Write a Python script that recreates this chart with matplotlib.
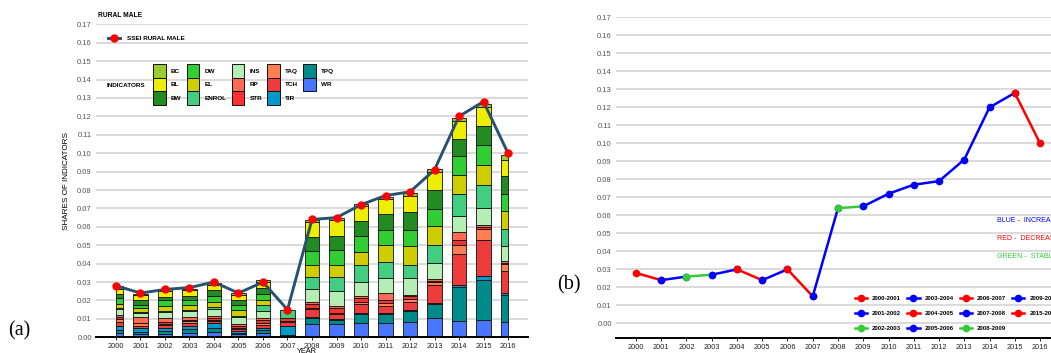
import numpy as np
import matplotlib
matplotlib.use("Agg")
import matplotlib.pyplot as plt
import matplotlib.patches as mpatches

# ── Data ───────────────────────────────────────────────────
years = np.arange(2000, 2017)
ssei  = [0.028, 0.024, 0.026, 0.027, 0.030, 0.024, 0.030, 0.015, 0.064,
         0.065, 0.072, 0.077, 0.079, 0.091, 0.120, 0.128, 0.100]

# indicator shares, stacked bottom -> top
WR    = [0.0024, 0.0016, 0.0020, 0.0026, 0.0029, 0.0016, 0.0024, 0.0000, 0.0071, 0.0071, 0.0075, 0.0080, 0.0085, 0.0103, 0.0087, 0.0096, 0.0082]
TPQ   = [0.0014, 0.0013, 0.0014, 0.0018, 0.0024, 0.0009, 0.0014, 0.0014, 0.0036, 0.0025, 0.0053, 0.0045, 0.0060, 0.0078, 0.0185, 0.0217, 0.0149]
TIR   = [0.0022, 0.0024, 0.0018, 0.0018, 0.0022, 0.0011, 0.0014, 0.0045, 0.0004, 0.0004, 0.0004, 0.0005, 0.0004, 0.0004, 0.0013, 0.0018, 0.0011]
TCH   = [0.0025, 0.0011, 0.0013, 0.0013, 0.0016, 0.0007, 0.0013, 0.0022, 0.0040, 0.0027, 0.0049, 0.0040, 0.0045, 0.0098, 0.0165, 0.0199, 0.0118]
TAQ   = [0.0014, 0.0011, 0.0009, 0.0011, 0.0005, 0.0005, 0.0013, 0.0005, 0.0009, 0.0005, 0.0013, 0.0014, 0.0014, 0.0015, 0.0049, 0.0058, 0.0036]
STR   = [0.0011, 0.0005, 0.0009, 0.0007, 0.0009, 0.0013, 0.0014, 0.0018, 0.0022, 0.0027, 0.0018, 0.0018, 0.0016, 0.0009, 0.0027, 0.0013, 0.0009]
RP    = [0.0011, 0.0029, 0.0024, 0.0018, 0.0009, 0.0011, 0.0014, 0.0000, 0.0009, 0.0013, 0.0013, 0.0040, 0.0005, 0.0009, 0.0045, 0.0011, 0.0009]
INS   = [0.0031, 0.0025, 0.0031, 0.0033, 0.0040, 0.0036, 0.0036, 0.0000, 0.0074, 0.0078, 0.0078, 0.0078, 0.0091, 0.0087, 0.0090, 0.0090, 0.0082]
ENROL = [0.0009, 0.0005, 0.0005, 0.0005, 0.0009, 0.0007, 0.0031, 0.0045, 0.0062, 0.0076, 0.0087, 0.0091, 0.0072, 0.0096, 0.0118, 0.0125, 0.0094]
EL    = [0.0022, 0.0018, 0.0025, 0.0025, 0.0027, 0.0033, 0.0027, 0.0000, 0.0065, 0.0065, 0.0076, 0.0091, 0.0105, 0.0103, 0.0105, 0.0110, 0.0096]
DW    = [0.0029, 0.0018, 0.0035, 0.0027, 0.0033, 0.0027, 0.0036, 0.0000, 0.0076, 0.0085, 0.0085, 0.0082, 0.0085, 0.0096, 0.0098, 0.0109, 0.0094]
BW    = [0.0025, 0.0027, 0.0018, 0.0024, 0.0034, 0.0027, 0.0033, 0.0000, 0.0076, 0.0076, 0.0082, 0.0085, 0.0096, 0.0100, 0.0096, 0.0103, 0.0096]
BL    = [0.0025, 0.0027, 0.0030, 0.0030, 0.0027, 0.0027, 0.0031, 0.0000, 0.0082, 0.0087, 0.0082, 0.0082, 0.0091, 0.0098, 0.0096, 0.0100, 0.0085]
BC    = [0.0018, 0.0007, 0.0009, 0.0007, 0.0009, 0.0009, 0.0009, 0.0000, 0.0009, 0.0009, 0.0009, 0.0013, 0.0016, 0.0018, 0.0016, 0.0018, 0.0027]

indicators = ["BC", "BL", "BW", "DW", "EL", "ENROL", "INS", "RP", "STR", "TAQ", "TCH", "TIR", "TPQ", "WR"]
ind_values = {"BC": BC, "BL": BL, "BW": BW, "DW": DW, "EL": EL, "ENROL": ENROL, "INS": INS,
              "RP": RP, "STR": STR, "TAQ": TAQ, "TCH": TCH, "TIR": TIR, "TPQ": TPQ, "WR": WR}
ind_colors = {"BC": "#9ACD32", "BL": "#EEEE00", "BW": "#228B22", "DW": "#32CD32",
              "EL": "#CDCD00", "ENROL": "#43CD80", "INS": "#B4EEB4", "RP": "#FF6A50",
              "STR": "#FF3030", "TAQ": "#FF7F50", "TCH": "#EE3B3B", "TIR": "#0099CC",
              "TPQ": "#008B8B", "WR": "#4876FF"}

# panel (b) trend segments: label, start index, end index, trend
seg_labels = ["2000-2001", "2001-2002", "2002-2003", "2003-2004", "2004-2005", "2005-2006",
              "2006-2007", "2007-2008", "2008-2009", "2009-2015", "2015-2016"]
seg_start  = [0, 1, 2, 3, 4, 5, 6, 7, 8, 9, 15]
seg_end    = [1, 2, 3, 4, 5, 6, 7, 8, 9, 15, 16]
seg_trend  = ["dec", "inc", "stable", "inc", "dec", "inc", "dec", "inc", "stable", "inc", "dec"]
TREND_COLOR = {"inc": "#0000FF", "dec": "#FF0000", "stable": "#33CC33"}

# ── Style ──────────────────────────────────────────────────
plt.rcParams.update({"font.family": ["Liberation Sans", "DejaVu Sans"]})
W, H = 1051, 353
GRID = "#d4d4d4"; TICK = "#555555"; LINE = "#28506F"

fig = plt.figure(figsize=(W / 100, H / 100), dpi=100)

def px(x0, y0, x1, y1):
    return [x0 / W, 1 - y1 / H, (x1 - x0) / W, (y1 - y0) / H]

# ── Panel (a) ──────────────────────────────────────────────
ax = fig.add_axes(px(96, 24.3, 528, 337.3))
bw = 0.61
lefts  = years - bw / 2
widths = np.full(len(years), bw)
lefts[0] = years[0]; widths[0] = bw / 2
widths[-1] = bw / 2

bottom = np.zeros(len(years))
for name in indicators[::-1]:
    vals = np.array(ind_values[name])
    bars = ax.bar(lefts, vals, width=widths, bottom=bottom, align="edge",
                  color=ind_colors[name], edgecolor="#111111", linewidth=0.6, zorder=3)
    for b, v in zip(bars, vals):
        if v == 0:
            b.set_linewidth(0)
    bottom += vals

line, = ax.plot(years, ssei, color=LINE, linewidth=2.1, marker="o", markersize=5,
                markerfacecolor="#FF0000", markeredgecolor="#FF0000", zorder=5)

ax.set_xlim(1999.184, 2016.816)
ax.set_ylim(0, 0.17)
ax.set_yticks(np.arange(0, 0.171, 0.01))
ax.set_yticklabels([f"{v:.2f}" for v in np.arange(0, 0.171, 0.01)])
ax.set_xticks(years)
ax.tick_params(axis="y", length=0, pad=3, labelsize=5.5, labelcolor=TICK)
ax.tick_params(axis="x", length=2, width=0.6, pad=2, labelsize=5.3, labelcolor="#222222")
ax.grid(axis="y", color=GRID, linewidth=1.2, zorder=0)
for s in ["top", "right", "left"]:
    ax.spines[s].set_visible(False)
ax.spines["bottom"].set_linewidth(1.4)
ax.spines["bottom"].set_zorder(6)
ax.set_ylabel("SHARES OF INDICATORS", fontsize=5.9, labelpad=5)

fig.text(98 / W, 1 - 15.7 / H, "RURAL MALE", fontsize=4.8, fontweight="bold", va="center")
# x title sits at the very bottom edge, as in the source
fig.text(307 / W, 1 - 348 / H, "YEAR", fontsize=5.3, ha="center", va="top")

leg1 = ax.legend([line], ["SSEI RURAL MALE"], loc="upper left",
                 bbox_to_anchor=(108 / W, 1 - 36 / H), bbox_transform=fig.transFigure,
                 frameon=False, prop={"size": 4.6, "weight": "bold"},
                 handlelength=1.9, handletextpad=1.1, borderpad=0, borderaxespad=0)
ax.add_artist(leg1)

handles = [mpatches.Patch(facecolor=ind_colors[n], edgecolor="#111111", linewidth=0.7)
           for n in indicators]
ax.legend(handles, indicators, ncol=5, loc="upper left",
          bbox_to_anchor=(153 / W, 1 - 64 / H), bbox_transform=fig.transFigure,
          frameon=False, prop={"size": 4.6, "weight": "bold"},
          handlelength=2.0, handleheight=2.9, labelspacing=0.0,
          handletextpad=0.8, columnspacing=0.8, borderpad=0, borderaxespad=0)
fig.text(107 / W, 1 - 85.5 / H, "INDICATORS", fontsize=4.6, fontweight="bold", va="center")

# ── Panel (b) ──────────────────────────────────────────────
ax2 = fig.add_axes(px(616, 17.3, 1060, 338.3))
for lab, i0, i1, tr in zip(seg_labels, seg_start, seg_end, seg_trend):
    ax2.plot(years[i0:i1 + 1], ssei[i0:i1 + 1], color=TREND_COLOR[tr], linewidth=1.8,
             marker="o", markersize=4.5, label=lab, zorder=4)

ax2.set_xlim(1999.21, 2016.79)
ax2.set_ylim(-0.0083, 0.17)
ax2.set_yticks(np.arange(0, 0.171, 0.01))
ax2.set_yticklabels([f"{v:.2f}" for v in np.arange(0, 0.171, 0.01)])
ax2.set_xticks(years)
ax2.tick_params(axis="y", length=0, pad=3, labelsize=5.5, labelcolor=TICK)
ax2.tick_params(axis="x", length=2, width=0.6, pad=2, labelsize=5.3, labelcolor="#222222")
ax2.grid(axis="y", color=GRID, linewidth=1.2, zorder=0)
for s in ["top", "right", "left"]:
    ax2.spines[s].set_visible(False)
ax2.spines["bottom"].set_linewidth(1.4)

ax2.legend(ncol=4, loc="upper left", bbox_to_anchor=(855 / W, 1 - 295.5 / H),
           bbox_transform=fig.transFigure, frameon=False,
           prop={"size": 4.4, "weight": "bold"}, handlelength=2.0, handletextpad=0.8,
           columnspacing=1.0, labelspacing=1.6, borderpad=0, borderaxespad=0)

fig.text(997 / W, 1 - 221 / H, "BLUE -  INCREASE", color="#0000FF", fontsize=5, va="center")
fig.text(997 / W, 1 - 239 / H, "RED -  DECREASE", color="#FF0000", fontsize=5, va="center")
fig.text(997 / W, 1 - 257 / H, "GREEN -  STABLE", color="#33CC33", fontsize=5, va="center")

# panel tags
fig.text(19 / W, 1 - 331 / H, "(a)", fontsize=14.5, family="Liberation Serif", ha="center", va="center")
fig.text(569 / W, 1 - 285 / H, "(b)", fontsize=14.5, family="Liberation Serif", ha="center", va="center")

fig.savefig("out.png", dpi=100)
